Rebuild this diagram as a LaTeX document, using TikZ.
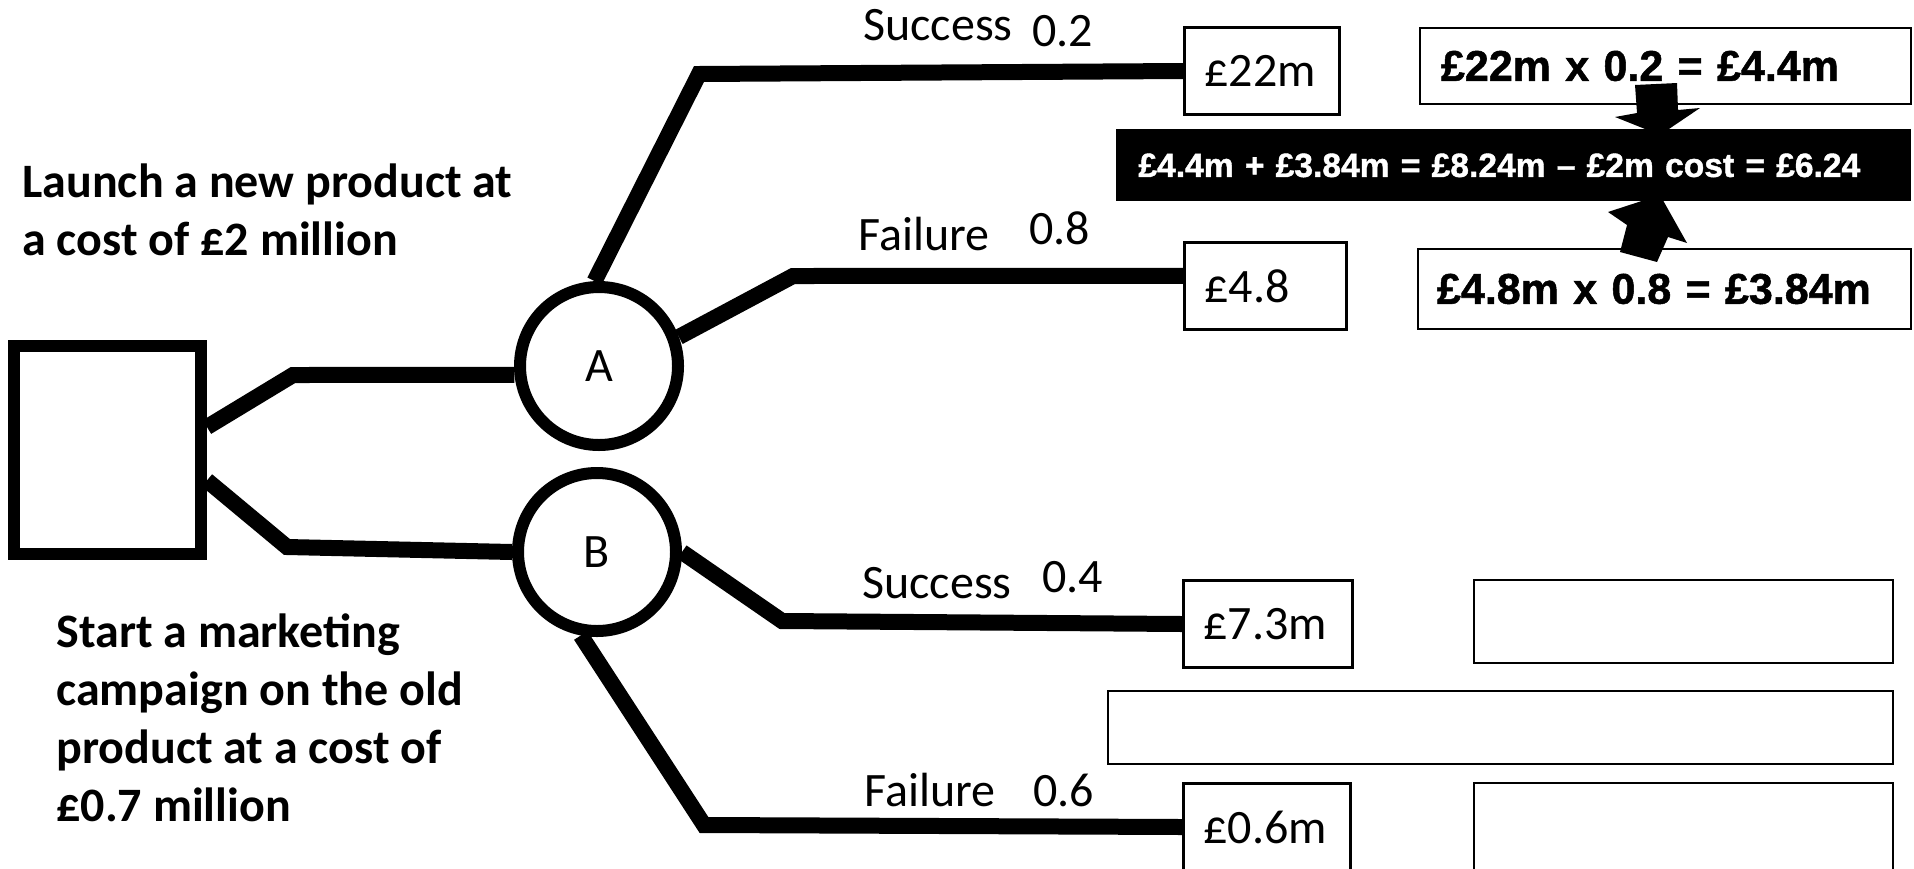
\documentclass[tikz,border=0pt]{standalone}
\usepackage{fontspec}
\setmainfont{Carlito}
\newfontfamily\formulafont[BoldFeatures={FakeBold=1.2}]{Liberation Sans}

\begin{document}
\begin{tikzpicture}[x=0.5pt,y=-0.5pt,
    branch/.style={line width=8pt,line join=miter},
    chance/.style={circle,draw,line width=6pt,minimum size=79pt,inner
      sep=0pt,font=\fontsize{24}{29}\selectfont},
    payoff/.style={draw,line width=1.5pt,anchor=north west,minimum
      height=43.5pt,inner xsep=10pt,align=left,font=\fontsize{24}{29}\selectfont},
    calcbox/.style={draw,line width=1pt,anchor=north west,align=left,
      font=\formulafont\bfseries\fontsize{21.5}{26}\selectfont},
    blank/.style={draw,line width=1pt,anchor=north west,inner sep=0pt}]

    \useasboundingbox (0,0) rectangle (1914,868);

    % the texts
    \tikzstyle{branchtext}=[anchor=base west,inner sep=0pt,
      font=\fontsize{24}{29}\selectfont]
    \tikzstyle{choice}=[anchor=base west,inner sep=0pt,align=left,
      font=\bfseries\fontsize{24}{29}\selectfont]

    \node[choice] (launch) at (22,255) {Launch a new product at\\a cost of £2 million};
    \node[choice] (market) at (56,821) {Start a marketing\\campaign on the old\\product at a cost of\\£0.7 million};

    % decision and chance nodes
    \node[draw,line width=6pt,minimum width=93.5pt,minimum height=104pt,
      inner sep=0pt] (dec) at (107.5,450) {};
    \node[chance] (A) at (599,366) {A};
    \node[chance] (B) at (597,552) {B};

    % payoffs
    \node[payoff,text width=57.5pt] (v22) at (1183,26) {£22m};
    \node[payoff,text width=61pt] (v48) at (1183,241) {£4.8};
    \node[payoff,text width=64.5pt] (v73) at (1182,579) {£7.3m};
    \node[payoff,text width=63.5pt] (v06) at (1182,782) {£0.6m};

    % branches
    \draw[branch] (dec.13) -- (293,375) -- (A.186);
    \draw[branch] (dec.-17) -- (287,547) -- (B.west);
    \draw[branch] (A.93) -- (699,74) -- (v22.west);
    \draw[branch] (A.20) -- (793,276) -- (v48.173);
    \draw[branch] (B.east) -- (782,621) -- (v73.west);
    \draw[branch] (B.259) -- (704,825) -- (v06.west);

    \node[branchtext] (s1) at (863,40) {Success};
    \node[branchtext] (p1) at (1032,46) {0.2};
    \node[branchtext] (f1) at (858,250) {Failure};
    \node[branchtext] (p2) at (1029,244) {0.8};
    \node[branchtext] (s2) at (862,598) {Success};
    \node[branchtext] (p3) at (1042,592) {0.4};
    \node[branchtext] (f2) at (864,806) {Failure};
    \node[branchtext] (p4) at (1033,806) {0.6};

    % expected values
    \node[calcbox,inner xsep=10.5pt,text width=224.5pt,minimum height=38pt]
      (ev1) at (1419,27) {£22m x 0.2 = £4.4m};
    \node[calcbox,inner xsep=9.5pt,text width=227.5pt,minimum height=40pt]
      (ev2) at (1417,248) {£4.8m x 0.8 = £3.84m};

    \fill (1635,85) -- (1677,83) -- (1678,110) -- (1700,108) -- (1660,135)
      -- (1615,117) -- (1637,113) -- cycle;
    \fill (1660,195) -- (1687,243) -- (1668,237) -- (1657,262) -- (1620,252)
      -- (1627,225) -- (1608,212) -- cycle;

    \node[fill=black,text=white,anchor=north west,align=left,inner xsep=11pt,
      text width=375.5pt,minimum height=36pt,
      font=\formulafont\bfseries\fontsize{16.8}{20}\selectfont]
      (total) at (1116,129) {£4.4m + £3.84m = £8.24m – £2m cost = £6.24};

    \node[blank,minimum width=209.5pt,minimum height=41.5pt] (e1) at (1473,579) {};
    \node[blank,minimum width=392.5pt,minimum height=36.5pt] (e2) at (1107,690) {};
    \node[blank,minimum width=209.5pt,minimum height=44pt] (e3) at (1473,782) {};

  \end{tikzpicture}
\end{document}
